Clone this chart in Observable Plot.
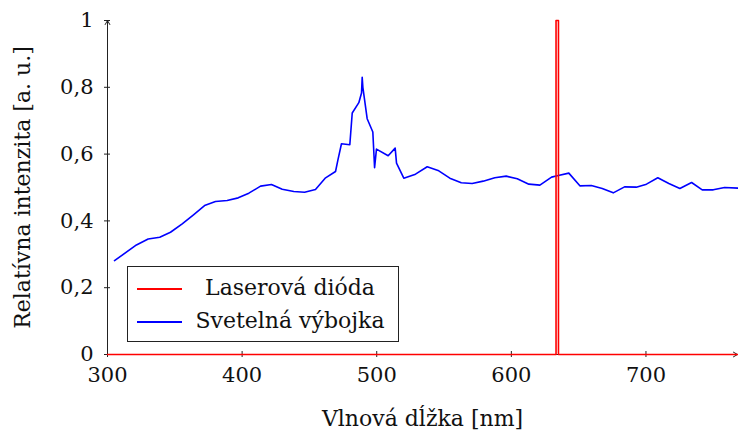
<!DOCTYPE html>
<html>
<head>
<meta charset="utf-8">
<script src="https://cdn.jsdelivr.net/npm/d3@7"></script>
<script src="https://cdn.jsdelivr.net/npm/@observablehq/plot@0.6"></script>
<style>
  body { margin: 0; background: #fff; }
  #wrap { position: relative; width: 738px; height: 435px; font-family: "DejaVu Serif"; }
  #legend { position: absolute; left: 127px; top: 266px; width: 272px; height: 76px; border: 1px solid #222; background: #fff; box-sizing: border-box; }
  .row { position: absolute; left: 0; width: 100%; height: 32px; }
  .sw { position: absolute; left: 9px; width: 45px; height: 2px; }
  .lt { position: absolute; left: 54px; right: 0; text-align: center; font-size: 22px; line-height: 32px; color: #111; white-space: nowrap; }
</style>
</head>
<body>
<div id="wrap"></div>
<script>
const seriesNames = ["Laserová dióda", "Svetelná výbojka"];
const seriesColors = ["#ff0000", "#0000ff"];

const laserX = [300, 633.2, 633.2, 635.0, 635.0, 768];
const laserY = [0, 0, 1, 1, 0, 0];

const lampX = [305.2, 321.5, 330.2, 338.8, 346.8, 355.5, 364.1, 372.1, 380.2, 388.9, 397.1, 405.0, 413.7, 421.8, 429.8, 438.4, 446.4, 454.5, 462.0, 469.4, 471.1, 473.8, 480.0, 481.8, 486.7, 488.7, 489.2, 489.7, 492.9, 497.1, 498.4, 499.8, 508.5, 513.7, 514.7, 520.1, 528.8, 537.5, 546.1, 554.3, 562.8, 570.9, 579.1, 587.7, 596.2, 604.4, 613.0, 621.2, 629.9, 634.1, 642.7, 650.9, 659.4, 667.5, 675.7, 684.1, 692.8, 700.4, 708.8, 717.0, 725.2, 733.9, 741.8, 750.0, 758.4, 768.3];
const lampY = [0.281, 0.328, 0.346, 0.351, 0.366, 0.391, 0.419, 0.446, 0.458, 0.461, 0.469, 0.483, 0.504, 0.509, 0.495, 0.488, 0.486, 0.494, 0.529, 0.548, 0.581, 0.631, 0.628, 0.723, 0.754, 0.783, 0.830, 0.800, 0.706, 0.666, 0.559, 0.615, 0.595, 0.618, 0.573, 0.528, 0.540, 0.562, 0.550, 0.528, 0.514, 0.512, 0.519, 0.529, 0.534, 0.526, 0.510, 0.507, 0.531, 0.535, 0.543, 0.505, 0.506, 0.497, 0.484, 0.502, 0.501, 0.510, 0.529, 0.512, 0.497, 0.515, 0.493, 0.493, 0.500, 0.498];

const xTicks = [300, 400, 500, 600, 700];
const yTicks = [0, 0.2, 0.4, 0.6, 0.8, 1];
const xDomain = [300, 768];
const yDomain = [0, 1];
const xLabel = "Vlnová dĺžka [nm]";
const yLabel = "Relatívna intenzita [a. u.]";

const laser = laserX.map((x, i) => ({x, y: laserY[i]}));
const lamp = lampX.map((x, i) => ({x, y: lampY[i]}));
const fmt = d => String(d).replace(".", ",");
const axisColor = "#222";
const FONT = "DejaVu Serif";

const chart = Plot.plot({
  width: 738,
  height: 435,
  marginLeft: 107,
  marginRight: 1,
  marginTop: 20,
  marginBottom: 81,
  style: { fontFamily: FONT, fontSize: "21px", color: "#111", background: "#fff", overflow: "visible" },
  x: { domain: xDomain, label: null },
  y: { domain: yDomain, label: null },
  marks: [
    Plot.axisX(xTicks, { tickSize: 3, tickPadding: 10, tickFormat: fmt, stroke: axisColor, fontSize: 21, fontFamily: FONT }),
    Plot.axisX(xTicks, { tickSize: -3, tickFormat: () => "", stroke: axisColor }),
    Plot.axisY(yTicks, { tickSize: 3, tickPadding: 11, tickFormat: fmt, stroke: axisColor, fontSize: 21, fontFamily: FONT }),
    Plot.axisY(yTicks, { tickSize: -3, tickFormat: () => "", stroke: axisColor }),
    Plot.arrow([0], { x1: xDomain[0], y1: yDomain[0], x2: xDomain[1], y2: yDomain[0], stroke: axisColor, strokeWidth: 1, headLength: 7, bend: 0 }),
    Plot.arrow([0], { x1: xDomain[0], y1: yDomain[0], x2: xDomain[0], y2: yDomain[1], stroke: axisColor, strokeWidth: 1, headLength: 7, bend: 0 }),
    Plot.line(lamp, { x: "x", y: "y", stroke: seriesColors[1], strokeWidth: 1.6 }),
    Plot.line(laser, { x: "x", y: "y", stroke: seriesColors[0], strokeWidth: 1.6 }),
    Plot.text([xLabel], { frameAnchor: "bottom", textAnchor: "middle", lineAnchor: "middle", dy: 64, fontSize: 22, fontFamily: FONT, fill: "#111" }),
    Plot.text([yLabel], { frameAnchor: "left", textAnchor: "middle", lineAnchor: "middle", dx: -85, rotate: -90, fontSize: 22, fontFamily: FONT, fill: "#111" })
  ]
});

const wrap = document.getElementById("wrap");
wrap.appendChild(chart);

const legend = document.createElement("div");
legend.id = "legend";
seriesNames.forEach((name, i) => {
  const row = document.createElement("div");
  row.className = "row";
  row.style.top = (5 + i * 33) + "px";
  const sw = document.createElement("div");
  sw.className = "sw";
  sw.style.top = "16px";
  sw.style.background = seriesColors[i];
  const lt = document.createElement("div");
  lt.className = "lt";
  lt.textContent = name;
  row.appendChild(sw);
  row.appendChild(lt);
  legend.appendChild(row);
});
wrap.appendChild(legend);
</script>
</body>
</html>
